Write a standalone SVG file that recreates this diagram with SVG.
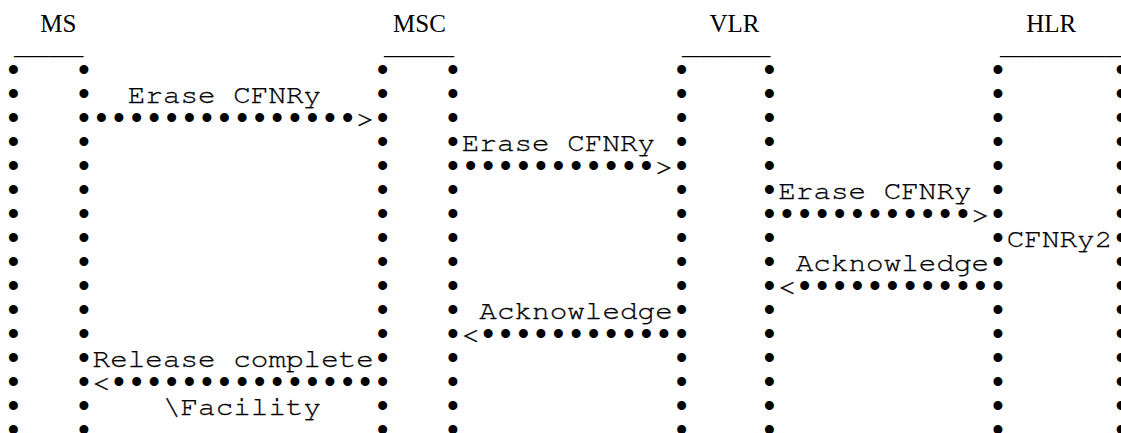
<svg xmlns="http://www.w3.org/2000/svg" xmlns:xlink="http://www.w3.org/1999/xlink" width="1121" height="433" viewBox="0 0 1121 433">
<style>
.t{font-family:"Nimbus Mono PS","Nimbus Mono L","FreeMono","Courier New","Liberation Mono",monospace;font-size:26px;fill:#000;stroke:#000;stroke-width:0.3px;white-space:pre}
.b{font-family:"Liberation Mono",monospace;font-size:33px;fill:#000;letter-spacing:-2.22px}
.h{font-family:"Liberation Serif","Times New Roman",serif;font-size:25px;fill:#000}
</style>
<defs>
<text id="col" class="b" x="0 0 0 0 0 0 0 0 0 0 0 0 0 0 0 0" y="81.2 105.18 129.16 153.14 177.12 201.1 225.08 249.06 273.04 297.02 321 344.98 368.96 392.94 416.92 440.9">••••••••••••••••</text>
</defs>
<rect width="1121" height="433" fill="#fff"/>
<g id="node-MS">
<text class="h" x="40.3" y="32">MS</text>
<text class="t" x="14" y="53.5" textLength="69.5" lengthAdjust="spacingAndGlyphs">____</text>
<use xlink:href="#col" x="3.6"/>
<use xlink:href="#col" x="73.92"/>
</g>
<g id="node-MSC">
<text class="h" x="393" y="32">MSC</text>
<text class="t" x="384" y="53.5" textLength="70" lengthAdjust="spacingAndGlyphs">____</text>
<use xlink:href="#col" x="372.78"/>
<use xlink:href="#col" x="443.1"/>
</g>
<g id="node-VLR">
<text class="h" x="709.5" y="32">VLR</text>
<text class="t" x="682" y="53.5" textLength="88.5" lengthAdjust="spacingAndGlyphs">_____</text>
<use xlink:href="#col" x="671.64"/>
<use xlink:href="#col" x="759.54"/>
</g>
<g id="node-HLR">
<text class="h" x="1026.3" y="32">HLR</text>
<text class="t" x="1000" y="53.5" textLength="140.6" lengthAdjust="spacingAndGlyphs">________</text>
<use xlink:href="#col" x="988.08"/>
<use xlink:href="#col" x="1111.14"/>
<text class="t" x="1006.77" y="247.36" textLength="105.48" lengthAdjust="spacingAndGlyphs">CFNRy2</text>
</g>
<g id="connectors">
<g id="msg-erase-ms-msc">
<text class="t" x="127.77" y="103.48" textLength="193.38" lengthAdjust="spacingAndGlyphs">Erase CFNRy</text>
<text class="b" x="91.5" y="129.16">•••••••••••••••</text>
<text class="t" x="356.31" y="127.46" textLength="17.58" lengthAdjust="spacingAndGlyphs">&gt;</text>
</g>
<g id="msg-erase-msc-vlr">
<text class="t" x="461.79" y="151.44" textLength="193.38" lengthAdjust="spacingAndGlyphs">Erase CFNRy</text>
<text class="b" x="460.68" y="177.12">•••••••••••</text>
<text class="t" x="655.17" y="175.42" textLength="17.58" lengthAdjust="spacingAndGlyphs">&gt;</text>
</g>
<g id="msg-erase-vlr-hlr">
<text class="t" x="778.23" y="199.4" textLength="193.38" lengthAdjust="spacingAndGlyphs">Erase CFNRy</text>
<text class="b" x="777.12" y="225.08">•••••••••••</text>
<text class="t" x="971.61" y="223.38" textLength="17.58" lengthAdjust="spacingAndGlyphs">&gt;</text>
</g>
<g id="msg-ack-hlr-vlr">
<text class="t" x="795.81" y="271.34" textLength="193.38" lengthAdjust="spacingAndGlyphs">Acknowledge</text>
<text class="t" x="778.23" y="295.32" textLength="17.58" lengthAdjust="spacingAndGlyphs">&lt;</text>
<text class="b" x="794.7" y="297.02">•••••••••••</text>
</g>
<g id="msg-ack-vlr-msc">
<text class="t" x="479.37" y="319.3" textLength="193.38" lengthAdjust="spacingAndGlyphs">Acknowledge</text>
<text class="t" x="461.79" y="343.28" textLength="17.58" lengthAdjust="spacingAndGlyphs">&lt;</text>
<text class="b" x="478.26" y="344.98">•••••••••••</text>
</g>
<g id="msg-release-msc-ms">
<text class="t" x="92.61" y="367.26" textLength="281.28" lengthAdjust="spacingAndGlyphs">Release complete</text>
<text class="t" x="92.61" y="391.24" textLength="17.58" lengthAdjust="spacingAndGlyphs">&lt;</text>
<text class="b" x="109.08" y="392.94">•••••••••••••••</text>
<text class="t" x="162.93" y="415.22" textLength="158.22" lengthAdjust="spacingAndGlyphs">\Facility</text>
</g>
</g>
</svg>
